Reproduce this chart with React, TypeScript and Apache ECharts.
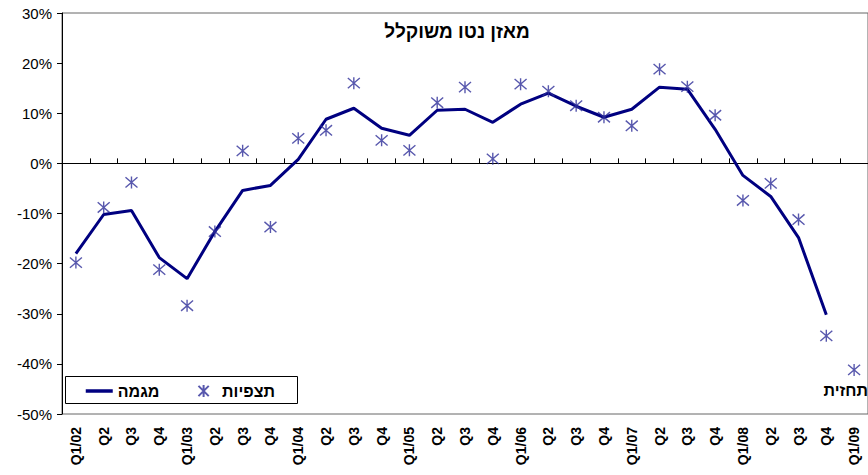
import React, { useEffect, useRef } from "react";
import * as echarts from "echarts";

const categories = [
  "Q1/02", "Q2", "Q3", "Q4",
  "Q1/03", "Q2", "Q3", "Q4",
  "Q1/04", "Q2", "Q3", "Q4",
  "Q1/05", "Q2", "Q3", "Q4",
  "Q1/06", "Q2", "Q3", "Q4",
  "Q1/07", "Q2", "Q3", "Q4",
  "Q1/08", "Q2", "Q3", "Q4",
  "Q1/09",
];

// מגמה (trend), percent
const trendValues = [
  -18, -10.2, -9.4, -18.8,
  -23, -13.6, -5.4, -4.4,
  0.8, 8.8, 11, 7,
  5.6, 10.6, 10.8, 8.2,
  11.8, 14, 11.4, 9.2,
  10.8, 15.2, 14.8, 6.8,
  -2.4, -6.6, -14.8, -30.2,
  null,
];

// תצפיות (observations), percent
const observedValues = [
  -19.8, -8.8, -3.8, -21.2,
  -28.4, -13.6, 2.5, -12.7,
  5, 6.6, 16, 4.6,
  2.6, 12.1, 15.2, 0.9,
  15.8, 14.4, 11.5, 9.2,
  7.5, 18.8, 15.3, 9.6,
  -7.4, -4, -11.2, -34.4,
  -41.2,
];

const yTicks = { min: -50, max: 30, interval: 10 };

const titleText = "מאזן נטו משוקלל";
const forecastText = "תחזית";
const trendName = "מגמה";
const observedName = "תצפיות";

const FONT = "Arial, 'Liberation Sans', sans-serif";
const STAR = "path://M0,0L12,12M12,0L0,12M6,-1L6,13";

export default function App() {
  const ref = useRef<HTMLDivElement>(null);
  useEffect(() => {
    if (!ref.current) return;
    const chart = echarts.init(ref.current, null, { renderer: "svg" });
    chart.setOption({
      animation: false,
      backgroundColor: "#ffffff",
      textStyle: { fontFamily: FONT },
      grid: {
        left: 62,
        top: 13,
        width: 812,
        height: 401,
        show: true,
        borderColor: "#666666",
        borderWidth: 1,
        backgroundColor: "transparent",
      },
      legend: {
        left: 84,
        top: 383,
        padding: 0,
        itemWidth: 27,
        itemHeight: 12,
        itemGap: 38,
        lineStyle: { width: 3.5 },
        data: [
          {
            name: trendName,
            itemStyle: { opacity: 0 },
          },
          { name: observedName },
        ],
        textStyle: { fontFamily: FONT, fontWeight: "bold", fontSize: 16, color: "#000" },
      },
      xAxis: [
        {
          type: "category",
          data: categories,
          boundaryGap: true,
          position: "bottom",
          axisLine: { show: true, onZero: true, lineStyle: { color: "#000", width: 1 } },
          axisTick: { show: true, inside: true, length: 5, interval: 0, lineStyle: { color: "#000" } },
          axisLabel: { show: false },
          splitLine: { show: false },
        },
        {
          type: "category",
          data: categories,
          boundaryGap: true,
          position: "bottom",
          axisLine: { show: false, onZero: false },
          axisTick: { show: false },
          axisLabel: {
            show: true,
            interval: 0,
            rotate: 90,
            margin: 13,
            fontFamily: FONT,
            fontWeight: "bold",
            fontSize: 14,
            color: "#000",
          },
          splitLine: { show: false },
        },
      ],
      yAxis: {
        type: "value",
        min: yTicks.min,
        max: yTicks.max,
        interval: yTicks.interval,
        axisLine: { show: true, lineStyle: { color: "#000", width: 1 } },
        axisTick: { show: true, inside: false, length: 5, lineStyle: { color: "#000" } },
        axisLabel: {
          formatter: (v: number) => `${v}%`,
          margin: 10,
          fontFamily: FONT,
          fontSize: 15,
          color: "#000",
        },
        splitLine: { show: false },
      },
      graphic: [
        {
          type: "rect",
          z: 1,
          shape: { x: 65.5, y: 376.5, width: 232, height: 27 },
          style: { fill: "#ffffff", stroke: "#000000", lineWidth: 1 },
        },
        {
          type: "text",
          z: 10,
          x: 457,
          y: 31,
          style: {
            text: titleText,
            fill: "#000",
            font: `bold 19px ${FONT}`,
            textAlign: "center",
            textVerticalAlign: "middle",
          },
        },
        {
          type: "text",
          z: 10,
          x: 868,
          y: 390,
          style: {
            text: forecastText,
            fill: "#000",
            font: `bold 16px ${FONT}`,
            textAlign: "right",
            textVerticalAlign: "middle",
          },
        },
      ],
      series: [
        {
          name: trendName,
          type: "line",
          xAxisIndex: 0,
          data: trendValues,
          symbol: "none",
          color: "#000080",
          lineStyle: { color: "#000080", width: 3 },
          connectNulls: false,
          z: 3,
        },
        {
          name: observedName,
          type: "scatter",
          xAxisIndex: 0,
          data: observedValues,
          symbol: STAR,
          symbolSize: 12,
          itemStyle: { color: "transparent", borderColor: "#2e2e99", borderWidth: 1.4 },
          z: 4,
        },
      ],
    });
    return () => chart.dispose();
  }, []);
  return (
    <div
      ref={ref}
      style={{ position: "fixed", left: 0, top: 0, width: 868, height: 475 }}
    />
  );
}
